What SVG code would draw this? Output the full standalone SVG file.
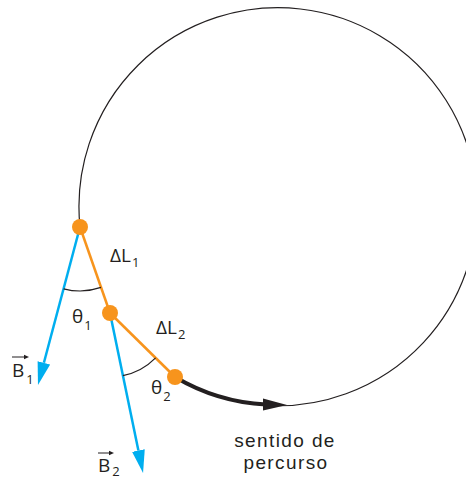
<svg xmlns="http://www.w3.org/2000/svg" width="466" height="480" viewBox="0 0 466 480">
  <defs>
    <style>
      .lbl { font-family: "Open Sans", "Noto Sans", "DejaVu Sans", sans-serif; font-size: 19px; fill: #231F20; }
      .sub { font-size: 13px; }
      .sense { font-family: "Liberation Sans", Arial, sans-serif; font-size: 19px; letter-spacing: 1.4px; fill: #231F20; }
      .thin { fill: none; stroke: #231F20; stroke-width: 1.2; }
      .blue { fill: none; stroke: #00AEEF; stroke-width: 2.5; }
      .orange { fill: none; stroke: #F7941D; stroke-width: 2.5; }
      .dot { fill: #F7941D; }
    </style>
    <marker id="blueHead" markerUnits="userSpaceOnUse" viewBox="0 -7 24 14" refX="0" refY="0" markerWidth="24" markerHeight="14" orient="auto">
      <path d="M0,-6.5 L23,0 L0,6.5 Z" fill="#00AEEF"/>
    </marker>
  </defs>
  <rect width="466" height="480" fill="#FFFFFF"/>

  <g id="connectors">
    <path class="thin" d="M80,227 A199,199 0 1 1 175,377"/>
    <path d="M175,377 A199,199 0 0 0 266,404.6" fill="none" stroke="#231F20" stroke-width="4"/>
    <polygon points="287,405 263,398.5 263,410.5" fill="#231F20"/>
    <line class="blue" x1="80" y1="227" x2="43.9" y2="362.8" marker-end="url(#blueHead)"/>
    <line class="blue" x1="110" y1="313" x2="138.4" y2="450.5" marker-end="url(#blueHead)"/>
    <line class="orange" x1="80" y1="227" x2="110" y2="313"/>
    <line class="orange" x1="110" y1="313" x2="175" y2="377"/>
    <path class="thin" d="M63.6,288.8 A64,64 0 0 0 101,287.4"/>
    <path class="thin" d="M122.9,375.7 A64,64 0 0 0 155.6,357.9"/>
  </g>

  <g id="p1"><circle class="dot" cx="80" cy="227" r="8"/></g>
  <g id="p2"><circle class="dot" cx="110" cy="313" r="8"/></g>
  <g id="p3"><circle class="dot" cx="175" cy="377" r="8"/></g>

  <g id="label-dL1">
    <text class="lbl" x="110" y="262">ΔL<tspan class="sub" dx="1" dy="5">1</tspan></text>
  </g>
  <g id="label-dL2">
    <text class="lbl" x="156" y="334">ΔL<tspan class="sub" dx="1" dy="5">2</tspan></text>
  </g>
  <g id="label-theta1">
    <text class="lbl" x="72" y="323">θ<tspan class="sub" dx="1" dy="7">1</tspan></text>
  </g>
  <g id="label-theta2">
    <text class="lbl" x="151" y="394">θ<tspan class="sub" dx="1" dy="7">2</tspan></text>
  </g>
  <g id="label-B1">
    <line x1="12" y1="357" x2="26" y2="357" stroke="#231F20" stroke-width="1"/>
    <polygon points="29,357 24,354.8 24,359.2" fill="#231F20"/>
    <text class="lbl" x="12" y="377">B<tspan class="sub" dx="2" dy="7">1</tspan></text>
  </g>
  <g id="label-B2">
    <line x1="98" y1="453" x2="111" y2="453" stroke="#231F20" stroke-width="1"/>
    <polygon points="114,453 109,450.8 109,455.2" fill="#231F20"/>
    <text class="lbl" x="98" y="472">B<tspan class="sub" dx="2" dy="4">2</tspan></text>
  </g>
  <g id="label-sense">
    <text class="sense" text-anchor="middle"><tspan x="285" y="447">sentido de</tspan><tspan x="286" y="469">percurso</tspan></text>
  </g>
</svg>
